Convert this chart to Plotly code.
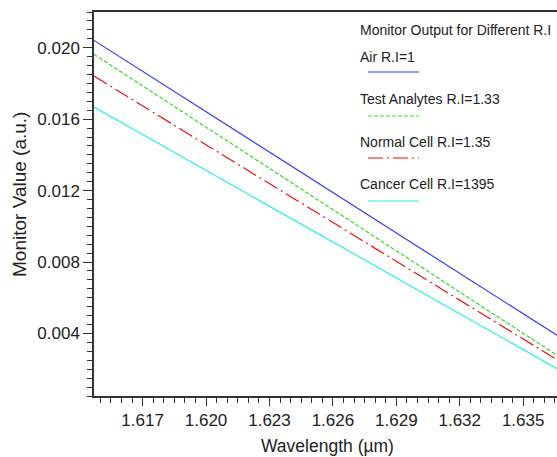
import plotly.graph_objects as go

# Data
wavelength = [1.6147, 1.6366]
air = [0.02041, 0.00390]
test_analytes = [0.01963, 0.00278]
normal_cell = [0.01841, 0.00253]
cancer_cell = [0.01668, 0.00203]

series_names = ["Air R.I=1", "Test Analytes R.I=1.33", "Normal Cell R.I=1.35", "Cancer Cell R.I=1395"]
series_values = [air, test_analytes, normal_cell, cancer_cell]
colors = ["#3b3bf5", "#33dd22", "#ee1111", "#22eef0"]
dashes = ["solid", "4px,2px", "15px,4px,2px,4px", "solid"]

FONT = "Liberation Sans, Arial, sans-serif"

W, H = 557, 457
ml, mr, mt, mb = 94, 0, 12, 61
pw, ph = W - ml - mr, H - mt - mb

fig = go.Figure()
for name, vals, c, d in zip(series_names, series_values, colors, dashes):
    fig.add_trace(go.Scatter(x=wavelength, y=vals, mode="lines", name=name,
                             line=dict(color=c, width=1.2, dash=d), showlegend=False))

def px_to_paper(xp, yp):
    return (xp - ml) / pw, 1 - (yp - mt) / ph

legend_text_y = [57, 99, 142, 184]
legend_line_y = [72, 116, 158, 201]

annotations = []
tx, ty = px_to_paper(360, 30)
annotations.append(dict(x=tx, y=ty, xref="paper", yref="paper", text="Monitor Output for Different R.I",
                        showarrow=False, xanchor="left", yanchor="middle", xshift=-2,
                        font=dict(family=FONT, size=14, color="#222")))
shapes = []
for name, c, d, yt, yl in zip(series_names, colors, dashes, legend_text_y, legend_line_y):
    ax, ay = px_to_paper(360, yt)
    annotations.append(dict(x=ax, y=ay, xref="paper", yref="paper", text=name, showarrow=False,
                            xanchor="left", yanchor="middle", xshift=-2,
                            font=dict(family=FONT, size=14, color="#222")))
    x0, y0 = px_to_paper(368, yl)
    x1, _ = px_to_paper(419, yl)
    shapes.append(dict(type="line", xref="paper", yref="paper", x0=x0, x1=x1, y0=y0, y1=y0,
                       line=dict(color=c, width=1.2, dash=d)))

# Axis titles as annotations for precise placement
xtx, xty = px_to_paper(327, 446)
annotations.append(dict(x=xtx, y=xty, xref="paper", yref="paper", text="Wavelength (µm)",
                        showarrow=False, xanchor="center", yanchor="middle",
                        font=dict(family=FONT, size=17.5, color="#222")))
ytx, yty = px_to_paper(19, 195)
annotations.append(dict(x=ytx, y=yty, xref="paper", yref="paper", text="Monitor Value (a.u.)",
                        showarrow=False, xanchor="center", yanchor="middle", textangle=-90,
                        font=dict(family=FONT, size=19, color="#222")))

fig.update_layout(
    width=W, height=H,
    margin=dict(l=ml, r=mr, t=mt, b=mb),
    plot_bgcolor="white", paper_bgcolor="white",
    font=dict(family=FONT, size=15, color="#222"),
    annotations=annotations,
    shapes=shapes,
    xaxis=dict(range=[1.6147, 1.6366], tickmode="linear", tick0=1.617, dtick=0.003,
               tickformat=".3f", showgrid=False, zeroline=False, automargin=False,
               showline=True, linecolor="#333", linewidth=1.5, mirror=True,
               ticks="outside", ticklen=8, tickcolor="#333",
               minor=dict(dtick=0.0005, tick0=1.617, ticks="outside", ticklen=5, tickcolor="#333"),
               tickfont=dict(size=17)),
    yaxis=dict(range=[0.0005, 0.022], tickmode="linear", tick0=0.0, dtick=0.004,
               tickformat=".3f", showgrid=False, zeroline=False, automargin=False,
               showline=True, linecolor="#333", linewidth=1.5,
               ticks="outside", ticklen=9, tickcolor="#333",
               minor=dict(dtick=0.0005, tick0=0.0, ticks="outside", ticklen=5, tickcolor="#333"),
               tickfont=dict(size=17)),
)

fig.write_html("out.html", config={"displayModeBar": False},
               post_script="document.body.style.margin='0';document.body.style.overflow='hidden';")
